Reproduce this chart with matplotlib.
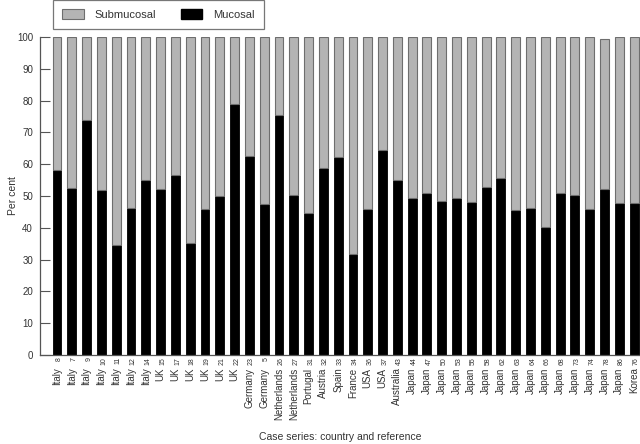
import matplotlib
matplotlib.use("Agg")
import matplotlib.pyplot as plt
import matplotlib.transforms as mtransforms
from matplotlib.patches import Patch

plt.rcParams['font.family'] = ['Liberation Sans', 'DejaVu Sans']

countries = ["Italy"] * 7 + ["UK"] * 6 + ["Germany"] * 2 + ["Netherlands"] * 2 + \
    ["Portugal", "Austria", "Spain", "France", "USA", "USA", "Australia"] + ["Japan"] * 15 + ["Korea"]
refs = ["8", "7", "9", "10", "11", "12", "14",
        "15", "17", "18", "19", "21", "22",
        "23", "5", "26", "27",
        "31", "32", "33", "34", "36", "37", "43",
        "44", "47", "50", "53", "55", "58", "62", "63", "64", "66", "68", "73", "74", "78", "86",
        "76"]
mucosal = [58.2, 52.4, 73.8, 51.8, 34.6, 46.1, 54.9,
           52.1, 56.7, 35.1, 45.9, 50.1, 79.0,
           62.7, 47.5, 75.5, 50.3,
           44.7, 58.8, 62.2, 31.8, 45.9, 64.5, 54.9,
           49.3, 50.8, 48.5, 49.5, 48.2, 52.8, 55.7, 45.6, 46.1, 40.3, 51.0, 50.3, 45.9, 52.1, 47.7,
           47.7]
total = [100.0] * 37 + [99.5, 100.0, 100.0]
submucosal = [t - m for t, m in zip(total, mucosal)]

fig = plt.figure(figsize=(6.4, 4.44), dpi=100)
ax = fig.add_axes([40/640, 89/444, 600/640, 318/444])

x = list(range(len(countries)))
ax.bar(x, mucosal, width=0.6, color='black', edgecolor='black', linewidth=0.6)
ax.bar(x, submucosal, bottom=mucosal, width=0.6, color='#b4b4b4',
       edgecolor='#6e6e6e', linewidth=0.8)

ax.set_ylim(0, 100)
ax.set_xlim(-1.15, 39.4)
ax.set_yticks(range(0, 101, 10))
for s in ['top', 'right']:
    ax.spines[s].set_visible(False)
for s in ['left', 'bottom']:
    ax.spines[s].set_color('#555555')
    ax.spines[s].set_linewidth(0.9)
ax.tick_params(axis='y', direction='in', length=7, width=0.8, color='#555555',
               labelsize=7, pad=5, labelcolor='#333333')
ax.set_xticks(x)
ax.set_xticklabels(countries, rotation=90, fontsize=7, color='#333333', va='top')
ax.tick_params(axis='x', length=0, pad=9)

trans = mtransforms.blended_transform_factory(ax.transData, fig.transFigure)
for xi, r in zip(x, refs):
    ax.text(xi + 0.15, (444 - 357) / 444, r, rotation=90, fontsize=5, color='#333333',
            ha='center', va='top', transform=trans)

ax.set_ylabel('Per cent', fontsize=7.5, color='#333333')
ax.yaxis.set_label_coords(-0.037, 0.5)
fig.text(340/640, 1 - 437/444, 'Case series: country and reference', fontsize=7.5,
         color='#333333', ha='center', va='center')

handles = [Patch(facecolor='#b4b4b4', edgecolor='#6e6e6e', linewidth=0.8),
           Patch(facecolor='black', edgecolor='black')]
leg = fig.legend(handles, ['Submucosal', 'Mucosal'], loc='upper left',
                 bbox_to_anchor=(53/640, 1.0), ncol=2, fontsize=8, frameon=True,
                 fancybox=False, edgecolor='#555555', handlelength=1.9, handleheight=0.9,
                 columnspacing=2.2, borderpad=0.85, handletextpad=1.0, borderaxespad=0)
leg.get_frame().set_linewidth(0.9)
for t in leg.get_texts():
    t.set_color('#333333')

fig.savefig('out.png', dpi=100)
